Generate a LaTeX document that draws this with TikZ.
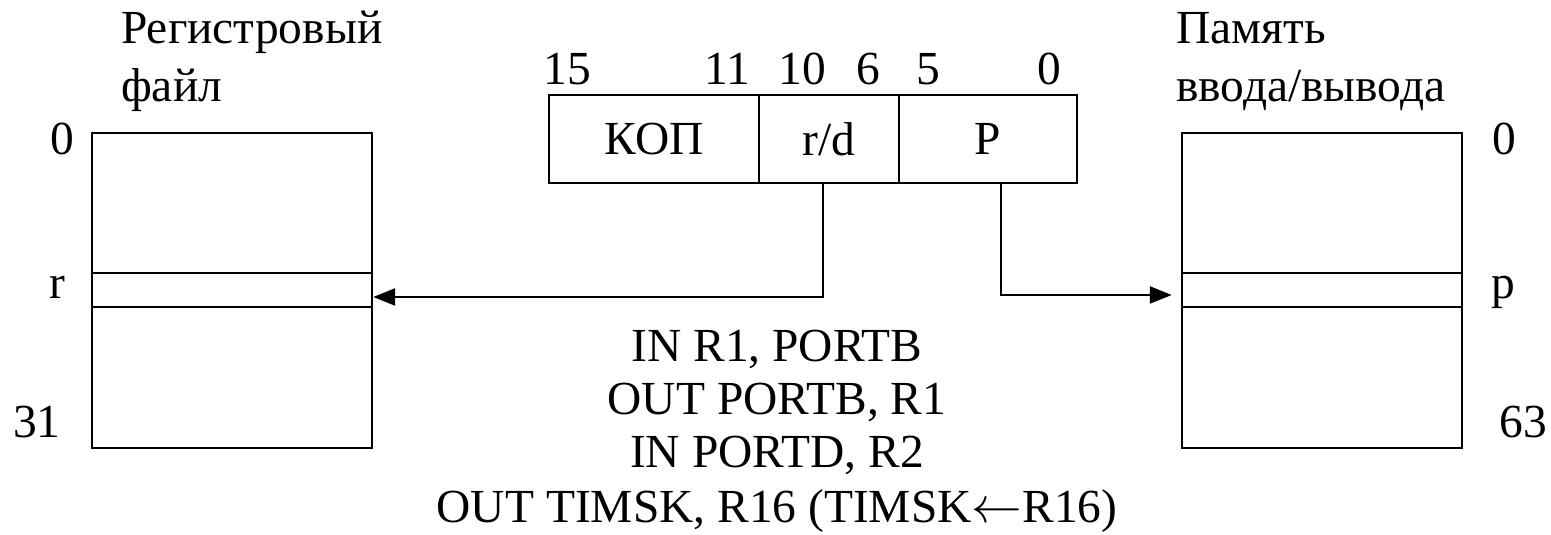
\documentclass[tikz,border=0pt]{standalone}
\usepackage{fontspec}
\setmainfont{Liberation Serif}
\usetikzlibrary{arrows.meta}
\newcommand{\lblsize}{\fontsize{13.5pt}{15pt}\selectfont}

\begin{document}
\begin{tikzpicture}[font=\lblsize, line width=0.7pt,
    cell/.style={draw, inner sep=0pt, minimum height=0.88cm},
    mem/.style={draw, inner sep=0pt, minimum width=2.8cm, minimum height=3.15cm},
    slot/.style={draw, inner sep=0pt, minimum width=2.8cm, minimum height=0.34cm},
    lbl/.style={inner sep=0pt, anchor=base},
    ptr/.style={-{Triangle[length=0.22cm, width=0.17cm]}}]
    \useasboundingbox (0,0) rectangle (15.51,5.35);

    % Register file
    \node (regfile) at (2.32, 2.445) [mem] {};
    \node (rslot) at (2.32, 2.45) [slot] {};
    \node (regtitle) at (1.20, 4.91) [lbl, anchor=base west] {Регистровый};
    \node (regtitle2) at (1.20, 4.33) [lbl, anchor=base west] {файл};
    \node (regfirst) at (0.62, 3.80) [lbl] {0};
    \node (regr) at (0.57, 2.36) [lbl] {r};
    \node (reglast) at (0.37, 0.97) [lbl] {31};

    % I/O memory
    \node (iomem) at (13.22, 2.445) [mem] {};
    \node (ioslot) at (13.22, 2.45) [slot] {};
    \node (iotitle) at (11.75, 4.91) [lbl, anchor=base west] {Память};
    \node (iotitle2) at (11.75, 4.33) [lbl, anchor=base west] {ввода/вывода};
    \node (iofirst) at (15.04, 3.80) [lbl] {0};
    \node (iop) at (15.03, 2.36) [lbl] {p};
    \node (iolast) at (15.23, 0.97) [lbl] {63};

    % Instruction format
    \node (opcode) at (6.54, 3.96) [cell, minimum width=2.10cm] {КОП};
    \node (rd) at (8.29, 3.96) [cell, minimum width=1.40cm] {r/d};
    \node (pfield) at (9.88, 3.96) [cell, minimum width=1.78cm] {P};
    \node (bit15) at (5.67, 4.50) [lbl] {15};
    \node (bit11) at (7.27, 4.50) [lbl] {11};
    \node (bit10) at (8.02, 4.50) [lbl] {10};
    \node (bit6) at (8.68, 4.50) [lbl] {6};
    \node (bit5) at (9.28, 4.50) [lbl] {5};
    \node (bit0) at (10.49, 4.50) [lbl] {0};

    % Operand paths
    \coordinate (rdbend) at (8.23, 2.38);
    \coordinate (pbend) at (10.01, 2.40);
    \draw[ptr] (rd.south -| rdbend) -- (rdbend) -- (rslot.east |- rdbend);
    \draw[ptr, shorten >=0.09cm] (pfield.south -| pbend) -- (pbend) -- (ioslot.west |- pbend);

    % Examples
    \node (ex1) at (7.77, 1.73) [lbl] {IN R1, PORTB};
    \node (ex2) at (7.77, 1.20) [lbl] {OUT PORTB, R1};
    \node (ex3) at (7.77, 0.67) [lbl] {IN PORTD, R2};
    \node (ex4) at (7.77, 0.12) [lbl] {OUT TIMSK, R16 (TIMSK$\leftarrow$R16)};
\end{tikzpicture}
\end{document}
